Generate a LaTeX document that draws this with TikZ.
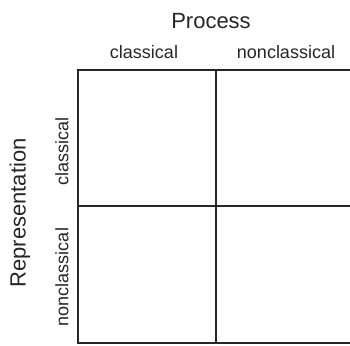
\documentclass[tikz,border=0pt]{standalone}
\usepackage{fontspec}
\setmainfont{Liberation Sans}
\usetikzlibrary{positioning}
\tikzset{
  % beschriftungen
  axislab/.style={font=\fontsize{22}{26}\selectfont,text=black!85,inner sep=0pt},
  catlab/.style={font=\fontsize{18}{21}\selectfont,text=black!85,inner sep=0pt},
  % raster
  gridln/.style={draw=black!85,line width=1.2pt},
}
\begin{document}
\begin{tikzpicture}[x=1pt,y=-1pt]
  \useasboundingbox (0,0) rectangle (350,345);
  \coordinate (nw) at (78,70);
  \coordinate (n) at (216,70);
  \coordinate (ne) at (350,70);
  \coordinate (w) at (78,206);
  \coordinate (e) at (350,206);
  \coordinate (sw) at (78,343);
  \coordinate (s) at (216,343);
  \coordinate (se) at (350,343);
  \node[axislab] (proc) at (211,21) {Process};
  \node[catlab] (pcl) at (144,52) {classical};
  \node[catlab] (pnc) at (286,52) {nonclassical};
  \node[axislab,rotate=90] (repr) at (20,213) {Representation};
  \node[catlab,rotate=90] (rcl) at (62,151) {classical};
  \node[catlab,rotate=90] (rnc) at (62,277) {nonclassical};
  \draw[gridln] (ne) -- (nw) -- (sw) -- (se);
  \draw[gridln] (n) -- (s);
  \draw[gridln] (w) -- (e);
\end{tikzpicture}
\end{document}
